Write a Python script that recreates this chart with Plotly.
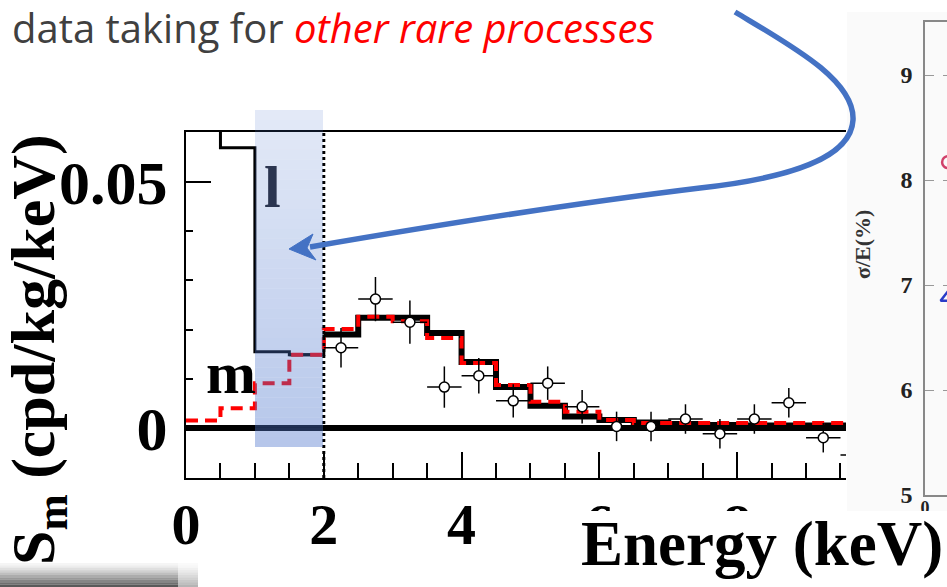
import plotly.graph_objects as go

W, H = 947, 587

# ---------------- data ----------------
bin_edges = [0.0, 0.5, 1.0, 1.5, 2.0, 2.5, 3.0, 3.5, 4.0, 4.5, 5.0, 5.5, 6.0, 6.5,
             7.0, 7.5, 8.0, 8.5, 9.0, 9.5, 10.0]
black_fit = [0.080, 0.057, 0.0155, 0.0149, 0.0190, 0.0224, 0.0224, 0.0193, 0.0134,
             0.0083, 0.0045, 0.0023, 0.0016, 0.0011, 0.0008, 0.0006, 0.0005, 0.0005,
             0.0005, 0.0005]
red_fit = [0.0015, 0.0040, 0.0091, 0.0149, 0.0201, 0.0226, 0.0217, 0.0183, 0.0132,
           0.0087, 0.0053, 0.0033, 0.0016, 0.0010, 0.0010, 0.0010, 0.0010, 0.0010,
           0.0010, 0.0010]

pt_energy = [2.25, 2.75, 3.25, 3.75, 4.25, 4.75, 5.25, 5.75, 6.25, 6.75, 7.25, 7.75,
             8.25, 8.75, 9.25, 9.75]
pt_sm = [0.0163, 0.0262, 0.0215, 0.0083, 0.0106, 0.0055, 0.0091, 0.0043, 0.0003,
         0.0003, 0.0018, -0.0012, 0.0018, 0.0051, -0.0020, -0.0055]
pt_err = [0.0040, 0.0045, 0.0044, 0.0042, 0.0036, 0.0034, 0.0034, 0.0034, 0.0030,
          0.0030, 0.0030, 0.0030, 0.0030, 0.0030, 0.0030, 0.0030]
pt_xerr = [0.25] * len(pt_energy)

x_ticks = [0, 2, 4, 6, 8]
threshold_keV = 2.0

res_ticks = [5, 6, 7, 8, 9]
res_marks_y = [8.17, 6.88]

# ---------------- helpers (pixel -> paper) ----------------
def px(x):
    return x / W


def py(y):
    return 1 - y / H


SERIF = "Liberation Serif"

fig = go.Figure()

# black fit histogram: thin below threshold, thick above
cut = bin_edges.index(threshold_keV)
fig.add_trace(go.Scatter(
    x=bin_edges[:cut + 1], y=black_fit[:cut] + [black_fit[cut - 1]],
    mode="lines", line=dict(color="black", width=3, shape="hv"),
    hoverinfo="skip", showlegend=False))
fig.add_trace(go.Scatter(
    x=bin_edges[cut - 1:cut + 1], y=[black_fit[cut - 1], black_fit[cut]],
    mode="lines", line=dict(color="black", width=3, shape="hv"),
    hoverinfo="skip", showlegend=False))
fig.add_trace(go.Scatter(
    x=bin_edges[cut:], y=black_fit[cut:] + [black_fit[-1]],
    mode="lines", line=dict(color="black", width=6, shape="hv"),
    hoverinfo="skip", showlegend=False))

# red dashed histogram
fig.add_trace(go.Scatter(
    x=bin_edges, y=red_fit + [red_fit[-1]],
    mode="lines", line=dict(color="#ff0000", width=4, shape="hv", dash="12px,7px"),
    hoverinfo="skip", showlegend=False))

# data points
fig.add_trace(go.Scatter(
    x=pt_energy, y=pt_sm, mode="markers",
    marker=dict(symbol="circle", size=10, color="white",
                line=dict(color="black", width=1.5)),
    error_y=dict(type="data", array=pt_err, color="black", thickness=1.5, width=0),
    error_x=dict(type="data", array=pt_xerr, color="black", thickness=1.5, width=0),
    showlegend=False))

# right-hand partial chart markers
fig.add_trace(go.Scatter(
    x=[1.05], y=[res_marks_y[0]], xaxis="x2", yaxis="y2", mode="markers",
    marker=dict(symbol="circle-open", size=12, color="#d0406a", line=dict(width=2.5)),
    showlegend=False))
fig.add_trace(go.Scatter(
    x=[1.05], y=[res_marks_y[1]], xaxis="x2", yaxis="y2", mode="markers",
    marker=dict(symbol="triangle-up-open", size=13, color="#2a3cc8", line=dict(width=2.5)),
    showlegend=False))

shapes = []
# faint panel behind the right chart
shapes.append(dict(type="rect", xref="paper", yref="paper", layer="below",
                   x0=px(847), x1=1, y0=0, y1=py(12),
                   fillcolor="#fafafa", line=dict(width=0)))

# dotted threshold line
shapes.append(dict(type="line", xref="x", yref="y", layer="above",
                   x0=threshold_keV, x1=threshold_keV, y0=-0.0102, y1=0.0602,
                   line=dict(color="black", width=3, dash="dot")))

# blue gradient highlight box
top, bot = 110, 447
n = 34
for i in range(n):
    y0 = top + (bot - top) * i / n
    y1 = top + (bot - top) * (i + 1) / n
    a = 0.16 + 0.26 * (i / (n - 1))
    shapes.append(dict(type="rect", xref="paper", yref="paper", layer="above",
                       x0=px(255), x1=px(323), y0=py(y1), y1=py(y0),
                       fillcolor=f"rgba(80,120,205,{a:.3f})", line=dict(width=0)))

# blue curved arrow
pts = [(735, 12), (790, 45), (855, 80), (853, 120), (851, 158), (790, 178), (700, 188),
       (560, 205), (420, 228), (310, 247)]
def P(p):
    return f"{px(p[0]):.5f},{py(p[1]):.5f}"
path = ("M " + P(pts[0]) + " C " + P(pts[1]) + " " + P(pts[2]) + " " + P(pts[3]) +
        " C " + P(pts[4]) + " " + P(pts[5]) + " " + P(pts[6]) +
        " C " + P(pts[7]) + " " + P(pts[8]) + " " + P(pts[9]))
shapes.append(dict(type="path", xref="paper", yref="paper", layer="above", path=path,
                   line=dict(color="#4472C4", width=5.5)))
head = [(289, 249), (313, 234), (307, 248), (316, 260)]
hpath = "M " + " L ".join(P(p) for p in head) + " Z"
shapes.append(dict(type="path", xref="paper", yref="paper", layer="above", path=hpath,
                   fillcolor="#4472C4", line=dict(color="#4472C4", width=1)))

# white box behind the Energy label
shapes.append(dict(type="rect", xref="paper", yref="paper", layer="above",
                   x0=px(572), x1=1, y0=0, y1=py(511),
                   fillcolor="white", line=dict(width=0)))

# dark shadow bar bottom-left
m = 10
for i in range(m):
    y0 = 563 + 24 * i / m
    y1 = 563 + 24 * (i + 1) / m
    a = 0.05 + 0.8 * (i / (m - 1)) ** 1.3
    shapes.append(dict(type="rect", xref="paper", yref="paper", layer="above",
                       x0=0, x1=px(178), y0=py(y1), y1=py(y0),
                       fillcolor=f"rgba(60,60,60,{a:.3f})", line=dict(width=0)))
    shapes.append(dict(type="rect", xref="paper", yref="paper", layer="above",
                       x0=px(178), x1=px(198), y0=py(y1), y1=py(y0),
                       fillcolor=f"rgba(60,60,60,{a*0.45:.3f})", line=dict(width=0)))

annotations = [
    dict(text="data taking for <i><span style='color:#ff0000'>other rare processes</span></i>",
         x=px(10), y=py(27), xref="paper", yref="paper", xanchor="left", yanchor="middle",
         showarrow=False, font=dict(family="Open Sans", size=40, color="#404040")),
    dict(text="S<sub>m</sub> (cpd/kg/keV)", textangle=-90,
         x=px(37), y=py(350), xref="paper", yref="paper", xanchor="center", yanchor="middle",
         showarrow=False, font=dict(family=SERIF, size=62, color="black", weight="bold")),
    dict(text="Energy (keV)",
         x=px(762), y=py(544), xref="paper", yref="paper", xanchor="center", yanchor="middle",
         showarrow=False, font=dict(family=SERIF, size=63, color="black", weight="bold")),
    dict(text="l", x=px(272), y=py(187), xref="paper", yref="paper",
         xanchor="center", yanchor="middle", showarrow=False,
         font=dict(family=SERIF, size=60, color="#2b3550", weight="bold")),
    dict(text="m", x=px(231), y=py(373), xref="paper", yref="paper",
         xanchor="center", yanchor="middle", showarrow=False,
         font=dict(family=SERIF, size=60, color="black", weight="bold")),
    dict(text="σ/E(%)", textangle=-90, x=px(862), y=py(245), xref="paper", yref="paper",
         xanchor="center", yanchor="middle", showarrow=False,
         font=dict(family=SERIF, size=22, color="#333333", weight="bold")),
]

fig.update_layout(
    width=W, height=H, autosize=False,
    margin=dict(l=0, r=0, t=0, b=0, pad=0, autoexpand=False),
    paper_bgcolor="white", plot_bgcolor="rgba(0,0,0,0)",
    showlegend=False,
    shapes=shapes, annotations=annotations,
    xaxis=dict(domain=[px(186), px(846)], range=[0, 9.58], anchor="y", automargin=False,
               tickvals=x_ticks, ticks="inside", ticklen=26, tickwidth=1.5, tickcolor="black",
               minor=dict(dtick=0.5, tick0=0, ticks="inside", ticklen=15, tickwidth=1.5,
                          tickcolor="black"),
               showline=True, linecolor="black", linewidth=2, mirror=True,
               showgrid=False, zeroline=False, ticklabelstandoff=-6,
               tickfont=dict(family=SERIF, size=58, color="black", weight="bold")),
    yaxis=dict(domain=[py(478), py(132)], range=[-0.0102, 0.0602], anchor="x", automargin=False,
               tick0=0, dtick=0.05, ticks="inside", ticklen=25, tickwidth=1.5, tickcolor="black",
               minor=dict(dtick=0.01, tick0=0, ticks="inside", ticklen=7, tickwidth=1.5,
                          tickcolor="black"),
               showline=True, linecolor="black", linewidth=2,
               showgrid=False, zeroline=True, zerolinecolor="black", zerolinewidth=6,
               ticklabelstandoff=4,
               tickfont=dict(family=SERIF, size=62, color="black", weight="bold")),
    xaxis2=dict(domain=[px(925), 1], range=[0, 1], anchor="y2", automargin=False,
                tickvals=[0], ticks="", showline=True, linecolor="#888888", linewidth=1.5,
                mirror=True, showgrid=False, zeroline=False, ticklabelstandoff=-4,
                tickfont=dict(family=SERIF, size=18, color="#222222", weight="bold")),
    yaxis2=dict(domain=[py(495), py(22)], range=[5, 9.505], anchor="x2", automargin=False,
                tickvals=res_ticks, ticks="", showline=True, linecolor="#888888", linewidth=1.5,
                showgrid=True, gridcolor="#999999", griddash="dash", gridwidth=1,
                zeroline=False, ticklabelstandoff=6,
                tickfont=dict(family=SERIF, size=24, color="#222222", weight="bold")),
)

fig.write_html("out.html")
